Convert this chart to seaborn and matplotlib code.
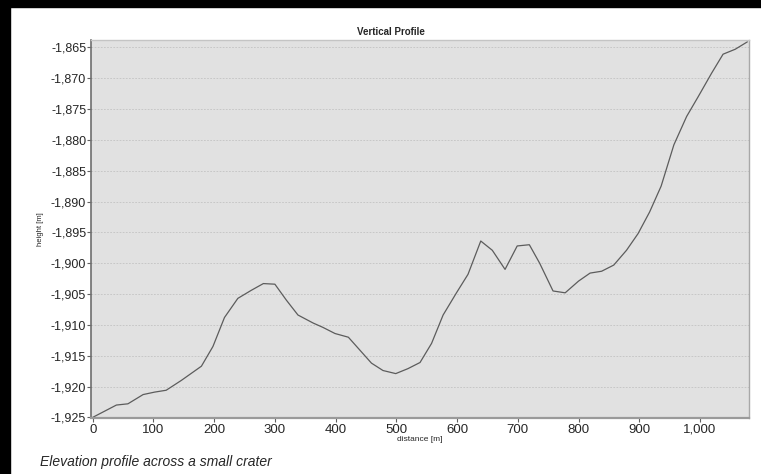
# Perfil vertical de elevação através de uma pequena cratera

import pandas as pd
import matplotlib
matplotlib.use("Agg")
import matplotlib.pyplot as plt
import matplotlib.ticker as mticker
import seaborn as sns

# Dados
distancia = [0, 39, 58, 83, 102, 121, 146, 179, 198, 217, 239, 261, 281, 300,
             319, 338, 363, 379, 399, 421, 440, 459, 478, 499, 519, 539, 558,
             577, 599, 618, 639, 658, 679, 699, 719, 736, 758, 778, 800, 819,
             838, 858, 879, 898, 917, 936, 957, 978, 997, 1019, 1038, 1058, 1078]
altura = [-1925.0, -1923.0, -1922.8, -1921.3, -1920.9, -1920.6, -1919.0,
          -1916.7, -1913.5, -1908.8, -1905.7, -1904.4, -1903.3, -1903.4,
          -1906.0, -1908.4, -1909.7, -1910.4, -1911.4, -1912.0, -1914.1,
          -1916.2, -1917.4, -1917.9, -1917.1, -1916.1, -1913.0, -1908.4,
          -1904.8, -1901.8, -1896.4, -1897.9, -1901.0, -1897.2, -1897.0,
          -1900.0, -1904.5, -1904.8, -1902.9, -1901.6, -1901.3, -1900.3,
          -1897.9, -1895.2, -1891.7, -1887.5, -1880.8, -1876.2, -1873.0,
          -1869.2, -1866.1, -1865.3, -1864.1]
y_ticks = [-1865, -1870, -1875, -1880, -1885, -1890, -1895, -1900, -1905,
           -1910, -1915, -1920, -1925]
x_ticks = [0, 100, 200, 300, 400, 500, 600, 700, 800, 900, 1000]

sns.set_style("whitegrid", {"axes.facecolor": "#e1e1e1",
                            "grid.color": "#bdbdbd",
                            "grid.linestyle": (0, (2.5, 2))})
plt.rcParams['font.family'] = ['Liberation Sans', 'DejaVu Sans']
plt.rcParams['axes.unicode_minus'] = False

df = pd.DataFrame({"distance": distancia, "height": altura})

fig = plt.figure(figsize=(7.61, 4.74), dpi=100)
fig.patch.set_facecolor("white")
# bordas pretas (topo e esquerda)
fig.patches.append(plt.Rectangle((0, 1 - 7 / 474), 1, 7 / 474, transform=fig.transFigure,
                                 color="black", zorder=0))
fig.patches.append(plt.Rectangle((0, 0), 10 / 761, 1, transform=fig.transFigure,
                                 color="black", zorder=0))

ax = fig.add_axes([91 / 761, 1 - 418 / 474, (749 - 91) / 761, (418 - 40) / 474])
sns.lineplot(data=df, x="distance", y="height", ax=ax, color="#5c5c5c",
             linewidth=0.9)

ax.set_xlim(-2.8, 1080.7)
ax.set_ylim(-1925.1, -1863.8)
ax.set_yticks(y_ticks)
ax.set_xticks(x_ticks)
ax.yaxis.set_major_formatter(mticker.StrMethodFormatter('{x:,.0f}'))
ax.xaxis.set_major_formatter(mticker.StrMethodFormatter('{x:,.0f}'))
ax.grid(axis="x", visible=False)
ax.grid(axis="y", linewidth=0.5)
ax.tick_params(axis="y", length=3, width=0.8, color="#606060", pad=0.5,
               labelsize=9, left=True)
ax.tick_params(axis="x", length=3, width=0.8, color="#606060", pad=1,
               labelsize=9.5, bottom=True)

for lado, cor, lw in [("left", "#6e6e6e", 1.2), ("bottom", "#9a9a9a", 1.6),
                      ("top", "#c4c4c4", 1.0), ("right", "#a8a8a8", 1.0)]:
    ax.spines[lado].set_visible(True)
    ax.spines[lado].set_color(cor)
    ax.spines[lado].set_linewidth(lw)

ax.set_xlabel("distance [m]", fontsize=6, labelpad=0)
ax.set_ylabel("height [m]", fontsize=5.5, labelpad=5)

fig.text(391 / 761, 1 - 32 / 474, "Vertical Profile", ha="center", va="center",
         fontsize=7, fontweight="bold")
fig.text(40 / 761, 1 - 462 / 474, "Elevation profile across a small crater",
         ha="left", va="center", fontsize=10, style="italic")

fig.savefig("out.png", dpi=100)
